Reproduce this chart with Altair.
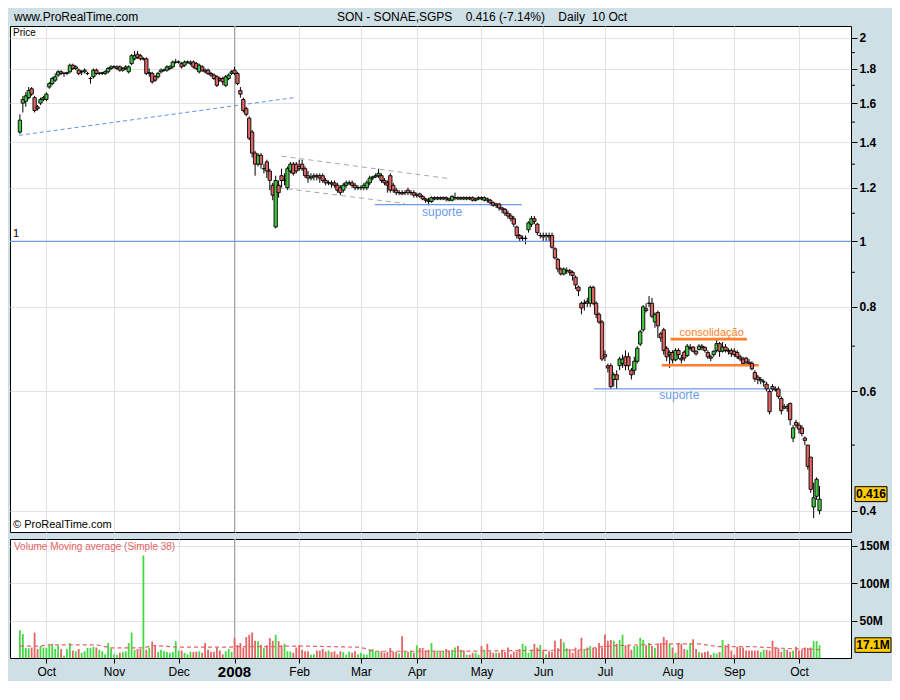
import altair as alt
import pandas as pd

# ---- daily candles, (open, high, low, close), one list per month ----
sep07 = [(1.45,1.54,1.44,1.51),(1.60,1.64,1.55,1.62),(1.61,1.66,1.58,1.64),(1.63,1.69,1.62,1.67),
         (1.68,1.69,1.64,1.65),(1.63,1.64,1.55,1.56),(1.58,1.59,1.56,1.57),(1.60,1.63,1.59,1.62),
         (1.62,1.64,1.61,1.63)]
oct07 = [(1.62,1.66,1.61,1.65),(1.69,1.72,1.68,1.71),(1.71,1.75,1.70,1.74),(1.73,1.77,1.72,1.75),
         (1.76,1.79,1.75,1.78),(1.78,1.79,1.76,1.77),(1.77,1.78,1.75,1.77),(1.77,1.78,1.76,1.775),
         (1.78,1.83,1.77,1.82),(1.82,1.83,1.79,1.80),(1.80,1.82,1.79,1.81),(1.79,1.80,1.76,1.77),
         (1.78,1.79,1.76,1.78),(1.78,1.80,1.77,1.79),(1.77,1.78,1.76,1.77),(1.74,1.75,1.71,1.74),
         (1.75,1.80,1.74,1.79),(1.79,1.80,1.76,1.77),(1.77,1.78,1.76,1.77),(1.77,1.78,1.76,1.775),
         (1.77,1.79,1.76,1.78),(1.78,1.81,1.77,1.80),(1.80,1.82,1.79,1.81)]
nov07 = [(1.81,1.82,1.80,1.81),(1.80,1.82,1.79,1.81),(1.81,1.82,1.78,1.79),(1.79,1.81,1.78,1.80),
         (1.80,1.82,1.79,1.81),(1.78,1.82,1.77,1.81),(1.83,1.89,1.82,1.88),(1.86,1.91,1.85,1.88),
         (1.89,1.91,1.86,1.87),(1.88,1.89,1.85,1.86),(1.86,1.87,1.85,1.86),(1.86,1.87,1.76,1.77),
         (1.77,1.80,1.75,1.775),(1.77,1.78,1.71,1.72),(1.75,1.76,1.72,1.73),(1.75,1.78,1.74,1.77),
         (1.78,1.80,1.77,1.79),(1.79,1.80,1.78,1.79),(1.79,1.82,1.78,1.81),(1.80,1.82,1.79,1.81),
         (1.81,1.85,1.80,1.84),(1.84,1.86,1.83,1.84)]
dec07 = [(1.84,1.85,1.83,1.84),(1.83,1.84,1.80,1.81),(1.82,1.85,1.81,1.84),(1.84,1.85,1.83,1.84),
         (1.83,1.85,1.82,1.84),(1.84,1.85,1.80,1.81),(1.83,1.84,1.79,1.80),(1.78,1.83,1.77,1.82),
         (1.81,1.82,1.78,1.79),(1.79,1.80,1.77,1.78),(1.79,1.80,1.76,1.77),(1.77,1.78,1.75,1.76),
         (1.76,1.77,1.73,1.74),(1.75,1.76,1.69,1.70),(1.74,1.75,1.72,1.73),(1.74,1.75,1.70,1.72),
         (1.70,1.76,1.69,1.75),(1.74,1.77,1.73,1.76),(1.77,1.79,1.76,1.78)]
jan08 = [(1.79,1.81,1.76,1.77),(1.77,1.78,1.70,1.71),(1.67,1.69,1.63,1.65),(1.62,1.63,1.55,1.56),
         (1.57,1.58,1.53,1.54),(1.52,1.53,1.41,1.42),(1.45,1.46,1.33,1.35),(1.35,1.36,1.25,1.30),
         (1.30,1.35,1.29,1.34),(1.34,1.35,1.28,1.30),(1.28,1.30,1.26,1.28),(1.31,1.32,1.24,1.27),
         (1.27,1.28,1.19,1.23),(1.21,1.22,1.15,1.17),(1.05,1.25,1.045,1.23),(1.21,1.23,1.16,1.18),
         (1.25,1.28,1.20,1.23),(1.23,1.26,1.21,1.23),(1.20,1.29,1.19,1.28),(1.27,1.31,1.26,1.30),
         (1.30,1.31,1.25,1.26),(1.30,1.31,1.26,1.27)]
feb08 = [(1.29,1.32,1.27,1.28),(1.30,1.32,1.27,1.28),(1.28,1.29,1.24,1.25),(1.25,1.27,1.22,1.24),
         (1.24,1.26,1.23,1.245),(1.245,1.26,1.23,1.25),(1.25,1.26,1.23,1.245),(1.25,1.26,1.22,1.24),
         (1.25,1.26,1.22,1.23),(1.23,1.24,1.21,1.22),(1.22,1.23,1.21,1.22),(1.22,1.23,1.20,1.215),
         (1.22,1.23,1.20,1.21),(1.21,1.22,1.18,1.19),(1.20,1.21,1.17,1.18),(1.19,1.22,1.18,1.21),
         (1.21,1.23,1.20,1.22),(1.22,1.23,1.21,1.22),(1.22,1.23,1.20,1.21),(1.21,1.22,1.19,1.20),
         (1.20,1.21,1.19,1.20)]
mar08 = [(1.20,1.21,1.19,1.20),(1.20,1.22,1.19,1.21),(1.20,1.23,1.19,1.22),(1.22,1.25,1.21,1.24),
         (1.24,1.25,1.23,1.245),(1.245,1.26,1.24,1.25),(1.25,1.28,1.24,1.26),(1.25,1.26,1.22,1.23),
         (1.23,1.24,1.21,1.22),(1.22,1.23,1.18,1.21),(1.25,1.26,1.18,1.19),(1.21,1.22,1.18,1.19),
         (1.19,1.20,1.17,1.18),(1.18,1.19,1.17,1.18),(1.18,1.19,1.17,1.175),(1.18,1.19,1.17,1.18),
         (1.19,1.20,1.17,1.18),(1.18,1.19,1.17,1.18),(1.18,1.19,1.16,1.17)]
apr08 = [(1.17,1.18,1.16,1.17),(1.175,1.18,1.16,1.165),(1.165,1.17,1.15,1.155),(1.155,1.16,1.14,1.15),
         (1.15,1.16,1.13,1.145),(1.145,1.165,1.14,1.16),(1.16,1.165,1.15,1.155),(1.155,1.165,1.15,1.16),
         (1.16,1.165,1.15,1.155),(1.155,1.165,1.15,1.16),(1.16,1.165,1.145,1.155),(1.155,1.16,1.145,1.15),
         (1.15,1.17,1.145,1.165),(1.16,1.18,1.15,1.16),(1.16,1.165,1.15,1.155),(1.155,1.165,1.15,1.16),
         (1.16,1.165,1.15,1.155),(1.155,1.165,1.15,1.16),(1.16,1.165,1.15,1.155),(1.16,1.165,1.145,1.15),
         (1.15,1.16,1.145,1.155),(1.155,1.165,1.15,1.16)]
may08 = [(1.16,1.165,1.15,1.155),(1.15,1.165,1.145,1.16),(1.155,1.16,1.14,1.15),(1.15,1.155,1.13,1.14),
         (1.14,1.145,1.125,1.13),(1.13,1.14,1.12,1.135),(1.135,1.14,1.11,1.12),(1.12,1.125,1.10,1.115),
         (1.115,1.12,1.09,1.10),(1.10,1.11,1.08,1.09),(1.09,1.10,1.07,1.08),(1.08,1.09,1.05,1.06),
         (1.05,1.055,1.01,1.02),(1.02,1.025,1.00,1.01),(1.01,1.02,1.00,1.01),(1.01,1.02,0.99,1.01),
         (1.04,1.07,1.03,1.065),(1.06,1.09,1.05,1.08),(1.08,1.09,1.06,1.07),(1.06,1.065,1.02,1.03),
         (1.02,1.03,1.01,1.02)]
jun08 = [(1.02,1.03,1.00,1.015),(1.02,1.03,1.00,1.02),(1.02,1.03,1.00,1.015),(1.02,1.03,0.975,0.98),
         (0.975,0.98,0.94,0.945),(0.94,0.945,0.90,0.91),(0.91,0.915,0.89,0.895),(0.895,0.915,0.89,0.91),
         (0.905,0.915,0.895,0.905),(0.905,0.91,0.89,0.90),(0.90,0.905,0.875,0.89),(0.885,0.89,0.85,0.862),
         (0.856,0.86,0.83,0.845),(0.81,0.815,0.78,0.797),(0.81,0.82,0.79,0.81),(0.815,0.825,0.80,0.81),
         (0.81,0.86,0.80,0.855),(0.855,0.86,0.805,0.81),(0.81,0.815,0.77,0.78),(0.78,0.785,0.755,0.76),
         (0.76,0.765,0.665,0.67)]
jul08 = [(0.68,0.69,0.665,0.675),(0.655,0.66,0.64,0.65),(0.655,0.66,0.605,0.61),(0.625,0.64,0.61,0.635),
         (0.635,0.645,0.605,0.625),(0.655,0.675,0.645,0.67),(0.66,0.68,0.65,0.67),(0.675,0.69,0.645,0.655),
         (0.675,0.685,0.645,0.655),(0.645,0.65,0.625,0.635),(0.645,0.675,0.635,0.665),(0.665,0.70,0.66,0.695),
         (0.705,0.74,0.70,0.735),(0.74,0.805,0.735,0.80),(0.795,0.81,0.785,0.79),(0.81,0.83,0.80,0.81),
         (0.81,0.825,0.77,0.775),(0.76,0.785,0.745,0.78),(0.785,0.79,0.72,0.75),(0.73,0.735,0.71,0.72),
         (0.74,0.745,0.68,0.69),(0.695,0.70,0.665,0.675),(0.68,0.69,0.65,0.685)]
aug08 = [(0.685,0.69,0.66,0.668),(0.668,0.695,0.665,0.69),(0.69,0.695,0.67,0.68),(0.672,0.68,0.66,0.668),
         (0.686,0.69,0.665,0.672),(0.678,0.705,0.675,0.70),(0.695,0.705,0.69,0.697),(0.698,0.70,0.685,0.688),
         (0.688,0.69,0.678,0.682),(0.692,0.705,0.69,0.70),(0.70,0.705,0.69,0.697),(0.697,0.70,0.685,0.69),
         (0.685,0.69,0.67,0.675),(0.675,0.68,0.665,0.672),(0.68,0.69,0.675,0.688),(0.69,0.715,0.685,0.706),
         (0.706,0.71,0.675,0.688),(0.688,0.71,0.685,0.698),(0.698,0.705,0.685,0.69),(0.69,0.695,0.68,0.688),
         (0.69,0.695,0.675,0.682)]
sep08 = [(0.688,0.695,0.675,0.68),(0.685,0.69,0.67,0.675),(0.675,0.68,0.665,0.67),(0.67,0.675,0.655,0.66),
         (0.672,0.675,0.655,0.663),(0.663,0.67,0.655,0.66),(0.66,0.665,0.645,0.648),(0.64,0.645,0.62,0.626),
         (0.63,0.635,0.615,0.625),(0.622,0.63,0.615,0.625),(0.62,0.625,0.61,0.62),(0.615,0.62,0.60,0.605),
         (0.60,0.605,0.555,0.56),(0.61,0.615,0.60,0.605),(0.605,0.61,0.60,0.603),(0.605,0.61,0.585,0.59),
         (0.586,0.59,0.555,0.562),(0.567,0.575,0.565,0.57),(0.57,0.575,0.56,0.567),(0.576,0.578,0.535,0.545),
         (0.512,0.535,0.505,0.53),(0.54,0.545,0.53,0.535)]
oct08 = [(0.535,0.54,0.52,0.528),(0.53,0.535,0.515,0.52),(0.512,0.515,0.50,0.508),(0.50,0.50,0.46,0.465),
         (0.48,0.48,0.425,0.43),(0.405,0.44,0.39,0.418),(0.42,0.448,0.415,0.445),(0.40,0.435,0.395,0.416)]

months = [sep07, oct07, nov07, dec07, jan08, feb08, mar08, apr08, may08, jun08, jul08, aug08, sep08, oct08]
month_labels = ["Oct", "Nov", "Dec", "2008", "Feb", "Mar", "Apr", "May", "Jun", "Jul", "Aug", "Sep", "Oct"]

# ---- daily volume (millions) ----
vol_a = [37,32,13.5,13,14,34,12,16,14,13.5,17,19,12,17,12,3,12,20,10,9,12,7,9,13.5,13.5,15,14,11,9,5,
         20,13,5,4,7,8,9,20,34,11,12,12,137,11,14,22,17.5,8,11,9,8,7,8,22.5,10,10,7,5,8.5,8,
         8.5,9,7,20,11,8,8.5,14,10,5,9,12,8,26.5,17.5,20,14,28,31,34,23,22.5,17.5,13.5,17,26.5,23,31,22.5,17,
         19,9,8.5,7,14,17.5,11,9,9,4.5,5,10,10,12,8.5,10,8,9,5,9,8,4.5,8.5,7,9,5,7,5,4.5,11,
         12,9,8,9,7,8,13.5,8,8,6,29,9,8,10,7,17,13.5,13.5,10,11,20,10,10,8.5,10,12,10,11,14]
vol_b = [16,11,10,4.5,4.5,7,7,4.5,16,11,19,8.5,7,7,7,11,8,14,5,8.5,8.5,12,19,16,7,11,19,14,17.5,11,
         5,9,8.5,23,13,25.5,21,13,12,7,14,11,27,12,14,16,13,13,20,14,31.5,23,24,23,19,24,31,17,17,11,
         16,16,27,24,17,20,16,13.5,19,20,28,24,19,14,7,20,19,12,11,20,25,12,8,7,8,9,4,7,6,8,
         24,17,19,10,4.5,15,14,14,10,10,10,10,10,8,11,11,10,23,14,13,8,12,11,8,10,15,10,11,14,13.5,
         14,22.5,22.5,17.1]

# volume moving average (Simple 38), read at candle indices
ma_idx = [0, 7, 9, 26, 31, 42, 45, 54, 70, 74, 87, 90, 98, 115, 118, 120, 148, 170, 192, 198, 204, 220, 231, 237, 248, 259, 272]
ma_val = [15.8, 15.8, 17.6, 17.6, 13.5, 13.5, 16.7, 14.4, 14.4, 15.3, 15.3, 15.8, 15.8, 14.4, 12.2, 9.0, 9.0,
          9.9, 10.8, 15.3, 16.7, 18.9, 18.9, 15.3, 15.3, 13.0, 11.3]

# drawn annotations (candle index, price)
trend_line = [(-0.3, 1.434, 93.6, 1.631)]
channel_lines = [(89, 1.336, 145.7, 1.238), (88, 1.20, 131, 1.137)]
support_lines = [(120.7, 1.133, 170.7, 1.133), (195.3, 0.6055, 258, 0.6055)]
consol_lines = [(221.3, 0.717, 247.3, 0.717), (218.3, 0.656, 251.3, 0.656)]
support_labels = [(143.6, 1.104, "suporte"), (224.3, 0.593, "suporte")]
consol_label = [(235.3, 0.731, "consolidação")]

price_major = [0.4, 0.6, 0.8, 1.0, 1.2, 1.4, 1.6, 1.8, 2.0]
price_minor = [0.5, 0.7, 0.9, 1.1, 1.3, 1.5, 1.7, 1.9]
vol_ticks = [50, 100, 150]

# ---- build tables ----
rows = []
starts = []
i = 0
for m in months:
    starts.append(i)
    for (o, h, l, c) in m:
        rows.append({"i": i, "o": o, "h": h, "l": l, "c": c})
        i += 1
month_start = starts[1:]
year_idx = month_start[3]
df = pd.DataFrame(rows)
df["v"] = vol_a + vol_b

ma_df = pd.DataFrame({"i": ma_idx, "m": ma_val})
def seg_df(segs):
    return pd.DataFrame(segs, columns=["x0", "y0", "x1", "y1"])
def lab_df(L):
    return pd.DataFrame(L, columns=["x", "y", "t"])

W, H, HV = 841, 506, 119
GREEN, RED = "#45c845", "#e36464"
FONT = "Liberation Sans"
GRID = "#e2e2e2"
xs = alt.Scale(domain=[-1.67, 281], nice=False, zero=False)
ys = alt.Scale(type="log", domain=[0.372, 2.08], nice=False)
vs = alt.Scale(domain=[0, 159], nice=False, zero=True)

label_expr = "[" + ",".join("'%s'" % ("" if s == "2008" else s) for s in month_labels) + "][indexof([" + \
    ",".join(str(v) for v in month_start) + "], datum.value)]"

x_price_axis = alt.Axis(values=month_start, labels=False, ticks=False, domain=False, grid=True,
                        gridColor=GRID, title=None)
y_price_axis = alt.Axis(orient="right", values=price_major, title=None, domain=False,
                        labelExpr="datum.value + ''", tickSize=6,
                        grid=True, gridColor=GRID, tickColor="black", labelColor="black",
                        labelFontWeight="bold", labelFontSize=12, labelPadding=2, labelFont=FONT)
x_vol_axis = alt.Axis(values=month_start, labelExpr=label_expr, grid=True, gridColor=GRID,
                      domain=False, ticks=True, tickSize=5, tickColor="black", title=None,
                      labelColor="black", labelFont=FONT, labelPadding=3, labelFontSize=12)
y_vol_axis = alt.Axis(orient="right", values=vol_ticks, labelExpr="datum.value + 'M'", title=None,
                      domain=False, grid=True, gridColor=GRID, tickColor="black", tickSize=6,
                      labelColor="black", labelFontWeight="bold", labelFontSize=12, labelPadding=2, labelFont=FONT)

def PX(f): return alt.X(f, scale=xs, axis=x_price_axis)
def PY(f): return alt.Y(f, scale=ys, axis=y_price_axis)
def VX(f): return alt.X(f, scale=xs, axis=x_vol_axis)
def VY(f): return alt.Y(f, scale=vs, axis=y_vol_axis)

one = alt.Data(values=[{"a": 1}])

year_rule = alt.Chart(pd.DataFrame({"yr": [year_idx]})).mark_rule(color="#a4a4a4", strokeWidth=1).encode(
    x=PX("yr:Q"))
wicks = alt.Chart(df).mark_rule(color="black", strokeWidth=1).encode(
    x=PX("i:Q"), y=PY("l:Q"), y2="h:Q")
bodies = alt.Chart(df).mark_bar(size=3.3, stroke="black", strokeWidth=0.9).encode(
    x=PX("i:Q"), y=PY("o:Q"), y2="c:Q",
    color=alt.condition("datum.c >= datum.o", alt.value(GREEN), alt.value(RED)))
minor = alt.Chart(pd.DataFrame({"p": price_minor})).mark_rule(color="black", strokeWidth=1).encode(
    y=PY("p:Q"), x=alt.value(W), x2=alt.value(W + 4))
one_line = alt.Chart(pd.DataFrame({"p": [1.0]})).mark_rule(color="#6d9be8", strokeWidth=1.2).encode(
    y=PY("p:Q"))

def seg_layer(segs, **kw):
    return alt.Chart(seg_df(segs)).mark_rule(**kw).encode(
        x=PX("x0:Q"), y=PY("y0:Q"), x2="x1:Q", y2="y1:Q")

trend = seg_layer(trend_line, color="#5f8ff0", strokeWidth=1, strokeDash=[4, 3])
chan = seg_layer(channel_lines, color="#a8a8a8", strokeWidth=1, strokeDash=[5, 4])
supp = seg_layer(support_lines, color="#6d9be8", strokeWidth=1.2)
cons = seg_layer(consol_lines, color="#ff7f2a", strokeWidth=2.6)

supp_txt = alt.Chart(lab_df(support_labels)).mark_text(color="#6d9be8", fontSize=12, font=FONT).encode(
    x=PX("x:Q"), y=PY("y:Q"), text="t:N")
cons_txt = alt.Chart(lab_df(consol_label)).mark_text(color="#ff7f2a", fontSize=11, font=FONT).encode(
    x=PX("x:Q"), y=PY("y:Q"), text="t:N")

def txt(s, x, y, **kw):
    return alt.Chart(one).mark_text(**kw).encode(x=x, y=y, text=alt.value(s))

def ytxt(s, x, yval, **kw):
    return alt.Chart(pd.DataFrame({"p": [yval]})).mark_text(**kw).encode(
        x=x, y=PY("p:Q"), text=alt.value(s))

header_l = txt("www.ProRealTime.com", alt.value(4), alt.value(-9), align="left", fontSize=12,
               font="Liberation Sans Narrow, " + FONT, color="black")
header_c = txt("SON - SONAE,SGPS\u00a0\u00a0\u00a0 0.416 (-7.14%)\u00a0\u00a0\u00a0 Daily\u00a0 10 Oct",
               alt.value(472), alt.value(-9), align="center", fontSize=12,
               font="Liberation Sans Narrow, " + FONT, color="black")
price_lbl = txt("Price", alt.value(3), alt.value(7), align="left", fontSize=10, font=FONT, color="black")
copy_lbl = txt("© ProRealTime.com", alt.value(3), alt.value(H - 7), align="left", fontSize=11, font=FONT, color="black")
one_lbl = ytxt("1", alt.value(3), 1.0, align="left", fontSize=11, font=FONT, color="black", dy=-7)

# last-price tag, sitting just above the 0.4 label
last_box = alt.Chart(pd.DataFrame({"a": [0.434], "b": [0.4125]})).mark_rect(
    fill="#ffcc00", stroke="black", strokeWidth=1).encode(
    x=alt.value(W + 4), x2=alt.value(W + 36), y=PY("a:Q"), y2="b:Q")
last_txt = ytxt("0.416", alt.value(W + 20), 0.423, align="center", baseline="middle", fontSize=12,
                fontWeight="bold", font=FONT, color="black")

price = alt.layer(year_rule, wicks, one_line, trend, chan, supp, cons, bodies, minor, supp_txt, cons_txt,
                  header_l, header_c, price_lbl, copy_lbl, one_lbl, last_box, last_txt
                  ).properties(width=W, height=H)

# ---- volume panel ----
vyear_rule = alt.Chart(pd.DataFrame({"yr": [year_idx]})).mark_rule(color="#a4a4a4", strokeWidth=1).encode(
    x=VX("yr:Q"))
vbars = alt.Chart(df).mark_bar(size=1.8).encode(
    x=VX("i:Q"), y=VY("v:Q"),
    color=alt.condition("datum.c >= datum.o", alt.value("#44d844"), alt.value(RED)))
ma_line = alt.Chart(ma_df).mark_line(color=RED, strokeWidth=1.2, strokeDash=[4, 3]).encode(
    x=VX("i:Q"), y=VY("m:Q"))
vol_lbl = txt("Volume Moving average (Simple 38)", alt.value(4), alt.value(8), align="left",
              fontSize=10, font=FONT, color=RED)
vbox = alt.Chart(pd.DataFrame({"a": [27.0], "b": [7.5]})).mark_rect(
    fill="#ffcc00", stroke="black", strokeWidth=1).encode(
    x=alt.value(W + 4), x2=alt.value(W + 40), y=VY("a:Q"), y2="b:Q")
vtxt = alt.Chart(pd.DataFrame({"p": [17.1]})).mark_text(
    align="center", baseline="middle", fontSize=12, fontWeight="bold", font=FONT, color="black").encode(
    x=alt.value(W + 22), y=VY("p:Q"), text=alt.value("17.1M"))
year_lbl = alt.Chart(pd.DataFrame({"x": [year_idx]})).mark_text(
    baseline="top", fontSize=15, fontWeight="bold", font=FONT, color="black").encode(
    x=VX("x:Q"), y=alt.value(HV + 7), text=alt.value("2008"))

volume = alt.layer(vyear_rule, vbars, ma_line, vol_lbl, vbox, vtxt, year_lbl).properties(width=W, height=HV)

chart = alt.vconcat(price, volume, spacing=5).properties(
    background="#cfdfe6", padding={"left": 0, "top": 2, "right": 0, "bottom": 0}
).configure_view(stroke="black", strokeWidth=1, fill="white")

chart.save("out.html", embed_options={"renderer": "svg", "actions": False})
